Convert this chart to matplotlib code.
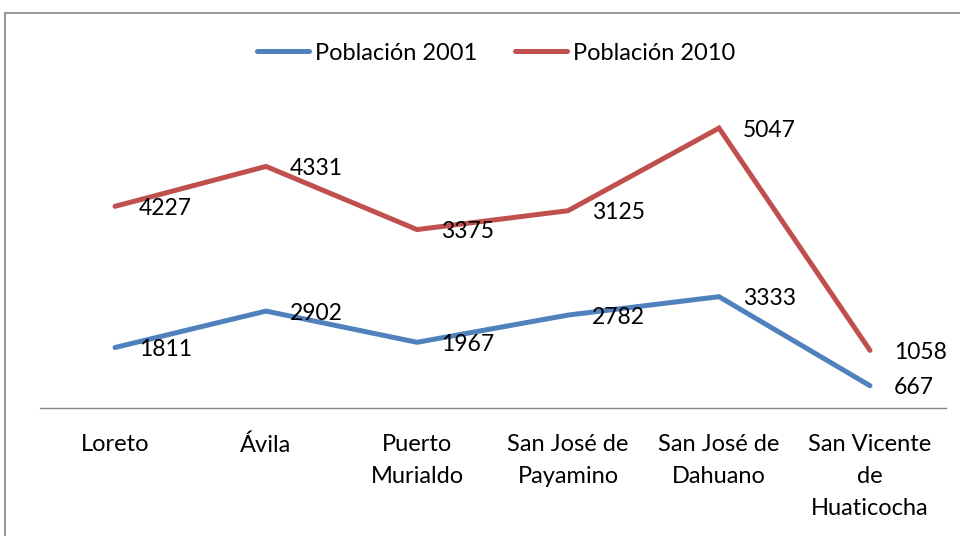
import matplotlib
matplotlib.use("Agg")
import matplotlib.pyplot as plt
from matplotlib.patches import Rectangle
import numpy as np

categories = ["Loreto", "Ávila", "Puerto\nMurialdo", "San José de\nPayamino",
              "San José de\nDahuano", "San Vicente\nde\nHuaticocha"]
pop2001 = [1811, 2902, 1967, 2782, 3333, 667]
pop2010 = [4227, 4331, 3375, 3125, 5047, 1058]

blue = "#4F81BD"
red = "#C0504D"
FONT = "Lato"
FS = 16.5

fig = plt.figure(figsize=(9.6, 5.36), dpi=100)
W, H = 960, 536
ax = fig.add_axes([39.5 / W, 1 - 408 / H, (945.5 - 39.5) / W, 334 / H])

x = np.arange(len(categories))
s1 = np.array(pop2001)
s2 = s1 + np.array(pop2010)  # stacked line chart

l1, = ax.plot(x, s1, color=blue, lw=3.6, solid_capstyle="round", solid_joinstyle="miter", label="Población 2001")
l2, = ax.plot(x, s2, color=red, lw=3.6, solid_capstyle="round", solid_joinstyle="miter", label="Población 2010")

for xi, yv, lab in zip(x, s1, pop2001):
    ax.annotate(str(lab), (xi, yv), xytext=(17, -1.5), textcoords="offset points",
                ha="left", va="center", fontsize=FS, family=FONT, color="black")
for xi, yv, lab in zip(x, s2, pop2010):
    ax.annotate(str(lab), (xi, yv), xytext=(17, -1.5), textcoords="offset points",
                ha="left", va="center", fontsize=FS, family=FONT, color="black")

ax.set_xlim(-0.5, len(categories) - 0.5)
ax.set_ylim(0, 10000)
ax.set_yticks([])
ax.set_xticks(x)
ax.set_xticklabels(categories, fontsize=17, family=FONT, linespacing=1.63)
ax.tick_params(axis="x", length=0, pad=19)
for sp in ["top", "right", "left"]:
    ax.spines[sp].set_visible(False)
ax.spines["bottom"].set_color("#878787")
ax.spines["bottom"].set_linewidth(1.0)

leg = fig.legend(handles=[l1, l2], loc="center", bbox_to_anchor=(496 / W, 1 - 53 / H),
                 ncol=2, frameon=False, prop={"family": FONT, "size": 17},
                 handlelength=2.2, handletextpad=0.25, columnspacing=1.6)

fig.patches.append(Rectangle((5 / W, -0.05), 1.2, (1 - 13 / H) + 0.05, transform=fig.transFigure,
                             fill=False, edgecolor="#8C8C8C", lw=1.3))

fig.savefig("out.png", dpi=100)
